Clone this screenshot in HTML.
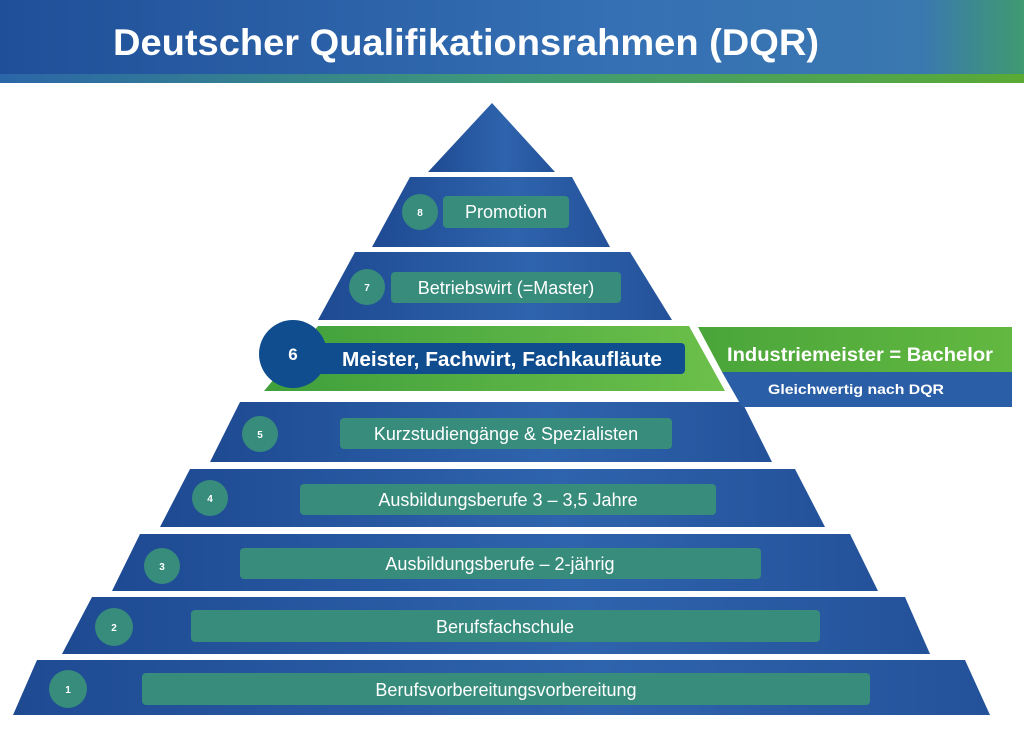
<!DOCTYPE html>
<html><head><meta charset="utf-8"><style>
html,body{margin:0;padding:0;background:#fff;width:1024px;height:735px;overflow:hidden}
svg{display:block}
</style></head><body>
<svg width="1024" height="735" viewBox="0 0 1024 735" xmlns="http://www.w3.org/2000/svg">
<defs>
<linearGradient id="hdr" x1="0" x2="1" y1="0" y2="0">
<stop offset="0" stop-color="#1f4f98"/><stop offset="0.6" stop-color="#3570b4"/><stop offset="0.9" stop-color="#3a78b0"/><stop offset="1" stop-color="#3f9a70"/></linearGradient>
<linearGradient id="stripe" x1="0" x2="1"><stop offset="0" stop-color="#2a66a8"/><stop offset="0.5" stop-color="#3f9a78"/><stop offset="1" stop-color="#5aaa35"/></linearGradient>
<linearGradient id="blu" x1="0" x2="1"><stop offset="0" stop-color="#1e4a92"/><stop offset="0.6" stop-color="#2e64ad"/><stop offset="1" stop-color="#24529a"/></linearGradient>
<linearGradient id="grn" x1="0" x2="1"><stop offset="0" stop-color="#3f9f3c"/><stop offset="1" stop-color="#6cc04a"/></linearGradient>
<linearGradient id="grn2" x1="0" x2="1"><stop offset="0" stop-color="#4aa53a"/><stop offset="1" stop-color="#62b840"/></linearGradient>
</defs>
<rect x="0" y="0" width="1024" height="75" fill="url(#hdr)"/>
<rect x="0" y="74" width="1024" height="9" fill="url(#stripe)"/>
<text x="113" y="55" font-family="Liberation Sans, sans-serif" font-weight="bold" font-size="37" fill="#fff" textLength="706" lengthAdjust="spacingAndGlyphs">Deutscher Qualifikationsrahmen (DQR)</text>

<g fill="url(#blu)">
<polygon points="492,103 555,172 428,172"/>
<polygon points="410,177 572,177 610,247 372,247"/>
<polygon points="355,252 630,252 672,320 318,320"/>
<polygon points="240,402 742,402 772,462 210,462"/>
<polygon points="190,469 795,469 825,527 160,527"/>
<polygon points="140,534 850,534 878,591 112,591"/>
<polygon points="92,597 905,597 930,654 62,654"/>
<polygon points="37,660 965,660 990,715 13,715"/>
</g>
<polygon points="698,327 1012,327 1012,372 722,372" fill="url(#grn2)"/>
<polygon points="722,372 1012,372 1012,407 742,407" fill="#2a5ea6"/>
<polygon points="312,322 694,322 733,396 258,396" fill="#fff"/>
<polygon points="318,326 689,326 725,391 264,391" fill="url(#grn)"/>
<text x="727" y="361" font-family="Liberation Sans, sans-serif" font-weight="bold" font-size="19" fill="#fff" textLength="266" lengthAdjust="spacingAndGlyphs">Industriemeister = Bachelor</text>
<text x="768" y="394" font-family="Liberation Sans, sans-serif" font-weight="bold" font-size="14" fill="#fff" textLength="176" lengthAdjust="spacingAndGlyphs">Gleichwertig nach DQR</text>
<rect x="310" y="343" width="375" height="31" rx="4" fill="#0f4d8e"/>
<circle cx="293" cy="354" r="34" fill="#0f4d8e"/>
<text x="293" y="360" text-anchor="middle" font-family="Liberation Sans, sans-serif" font-weight="bold" font-size="17" fill="#fff">6</text>
<text x="342" y="366" font-family="Liberation Sans, sans-serif" font-weight="bold" font-size="20" fill="#fff" textLength="320" lengthAdjust="spacingAndGlyphs">Meister, Fachwirt, Fachkaufläute</text>

<g fill="#378c7c">
<circle cx="420" cy="212" r="18"/><rect x="443" y="196" width="126" height="32" rx="4"/>
<circle cx="367" cy="287" r="18"/><rect x="391" y="272" width="230" height="31" rx="4"/>
<circle cx="260" cy="434" r="18"/><rect x="340" y="418" width="332" height="31" rx="4"/>
<circle cx="210" cy="498" r="18"/><rect x="300" y="484" width="416" height="31" rx="4"/>
<circle cx="162" cy="566" r="18"/><rect x="240" y="548" width="521" height="31" rx="4"/>
<circle cx="114" cy="627" r="19"/><rect x="191" y="610" width="629" height="32" rx="4"/>
<circle cx="68" cy="689" r="19"/><rect x="142" y="673" width="728" height="32" rx="4"/>
</g>
<g font-family="Liberation Sans, sans-serif" font-size="10" font-weight="bold" fill="#fff" text-anchor="middle">
<text x="420" y="216">8</text><text x="367" y="291">7</text><text x="260" y="438">5</text>
<text x="210" y="502">4</text><text x="162" y="570">3</text><text x="114" y="631">2</text><text x="68" y="693">1</text>
</g>
<g font-family="Liberation Sans, sans-serif" font-size="18" fill="#fff" text-anchor="middle">
<text x="506" y="218">Promotion</text>
<text x="506" y="294">Betriebswirt (=Master)</text>
<text x="506" y="440">Kurzstudiengänge &amp; Spezialisten</text>
<text x="508" y="506">Ausbildungsberufe 3 – 3,5 Jahre</text>
<text x="500" y="570">Ausbildungsberufe – 2-jährig</text>
<text x="505" y="633">Berufsfachschule</text>
<text x="506" y="696">Berufsvorbereitungsvorbereitung</text>
</g>
</svg>
</body></html>
